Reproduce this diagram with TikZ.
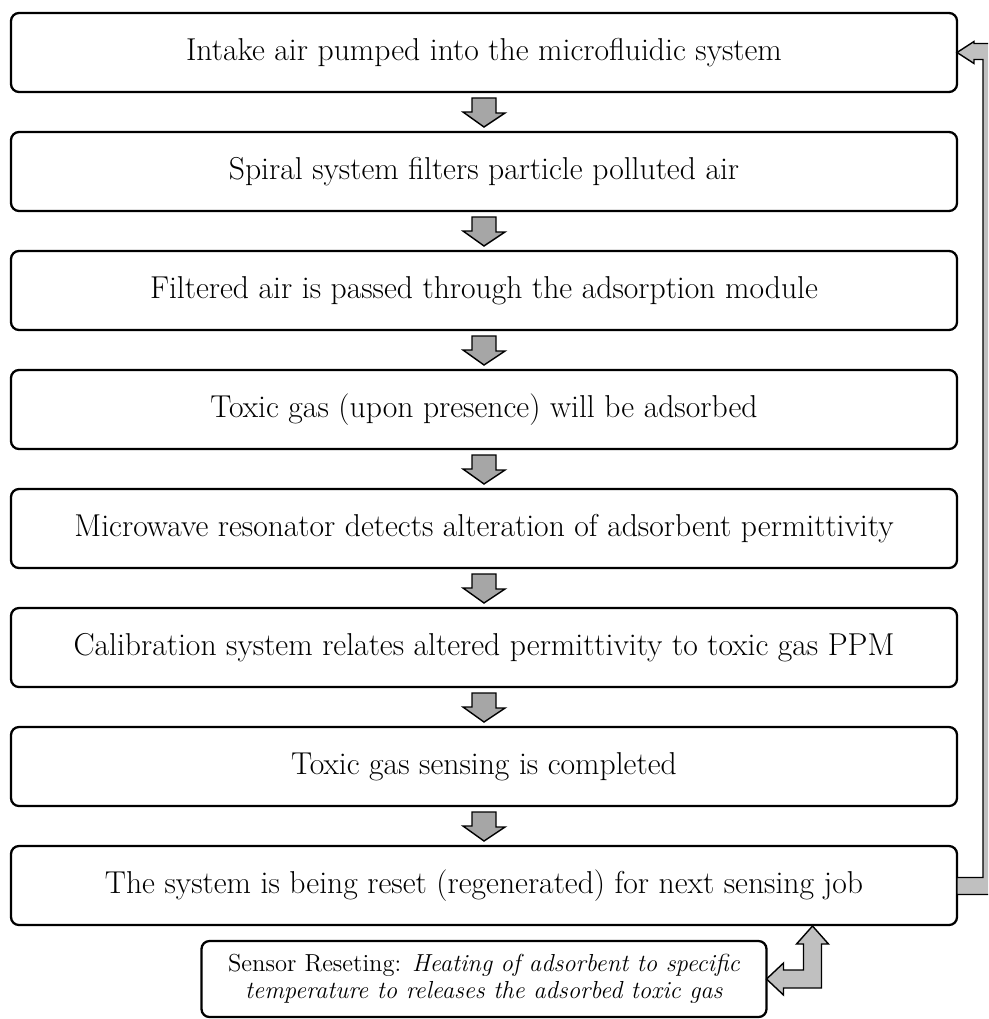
\documentclass[tikz,border=0pt]{standalone}
\usetikzlibrary{positioning,calc}
\definecolor{arrowgray}{RGB}{166,166,166}
\definecolor{loopgray}{RGB}{192,192,192}

\begin{document}
\begin{tikzpicture}[
  x=0.2mm, y=-0.2mm,
  node distance=0.8cm,
  stepbox/.style={draw=black, line width=1.3pt, rounded corners=1.6mm, fill=white,
                  minimum width=18.92cm, minimum height=1.58cm, outer sep=0pt,
                  inner sep=0pt, font=\fontsize{18}{21}\selectfont, align=center},
  resetbox/.style={draw=black, line width=1.3pt, rounded corners=1.6mm, fill=white,
                   minimum width=11.3cm, minimum height=1.52cm, outer sep=0pt,
                   inner sep=0pt, font=\fontsize{14}{15.5}\selectfont, align=center},
  downarr/.style={draw=black, line width=0.8pt, fill=arrowgray},
  bentarr/.style={draw=black, line width=0.8pt, fill=loopgray}
]
\useasboundingbox (0,0) rectangle (988,1019);
\clip (0,0) rectangle (988,1019);

\node[stepbox] (b1) at (484,52.5) {Intake air pumped into the microfluidic system};
\node[stepbox, below=of b1] (b2) {Spiral system filters particle polluted air};
\node[stepbox, below=of b2] (b3) {Filtered air is passed through the adsorption module};
\node[stepbox, below=of b3] (b4) {Toxic gas (upon presence) will be adsorbed};
\node[stepbox, below=of b4] (b5) {Microwave resonator detects alteration of adsorbent permittivity};
\node[stepbox, below=of b5] (b6) {Calibration system relates altered permittivity to toxic gas PPM};
\node[stepbox, below=of b6] (b7) {Toxic gas sensing is completed};
\node[stepbox, below=of b7] (b8) {The system is being reset (regenerated) for next sensing job};
\node[resetbox, below=0.32cm of b8] (rs) {Sensor Reseting: \textit{Heating of adsorbent to specific}\\
  \textit{temperature to releases the adsorbed toxic gas}};

% block arrows between the steps
\foreach \i/\j in {1/2,2/3,3/4,4/5,5/6,6/7,7/8}
  \draw[downarr] ($(b\i.south)+(-12,6)$) -- ++(24,0) -- ++(0,15) -- ++(9,0)
    -- ($(b\j.north)+(0,-5)$) -- ++(-21,-15) -- ++(9,0) -- cycle;

% loop back to the intake
\draw[bentarr] ($(b8.east)+(0,-8)$) -- ++(26,0) -- ($(b1.east)+(26,7)$) -- ++(-9,0)
  -- ++(0,4) -- (b1.east) -- ++(17,-11) -- ++(0,2) -- ++(26,0)
  -- ($(b8.east)+(43,9)$) -- ++(-43,0) -- cycle;

% reset link
\draw[bentarr] (rs.east) -- ++(17,-16) -- ++(0,7) -- ++(20,0) -- ++(0,-26) -- ++(-7,0)
  -- ++(16,-18) -- ++(16,18) -- ++(-7,0) -- ++(0,44) -- ++(-38,0) -- ++(0,7) -- cycle;
\end{tikzpicture}
\end{document}
